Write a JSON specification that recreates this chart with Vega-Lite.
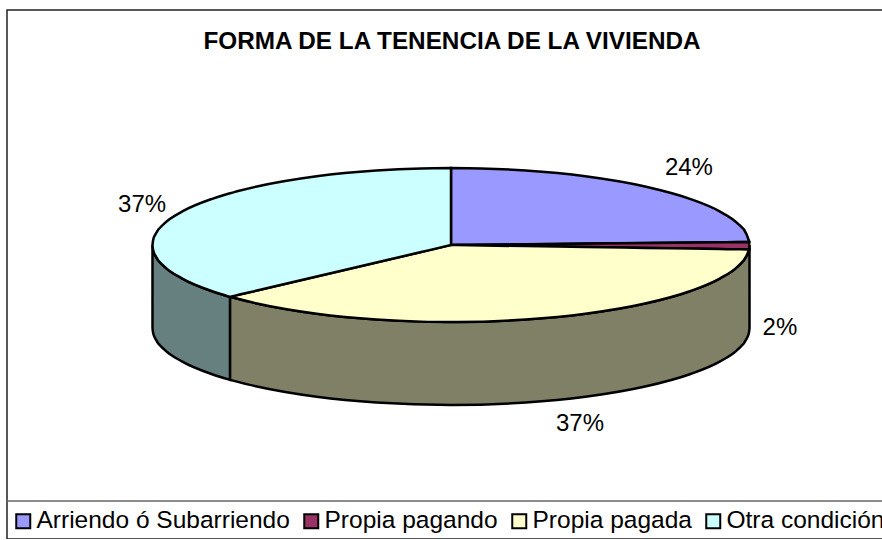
{"$schema":"https://vega.github.io/schema/vega-lite/v6.json","width":880,"height":529,"autosize":"none","padding":{"left":7,"top":10,"right":0,"bottom":0},"background":"white","view":{"stroke":"#222","strokeWidth":1.5,"fill":"white"},"title":{"text":"FORMA DE LA TENENCIA DE LA VIVIENDA","font":"Liberation Sans","fontSize":24.3,"fontWeight":"bold","color":"#000","anchor":"middle","dx":5,"offset":-44},"config":{"font":"Liberation Sans"},"datasets":{"shapes":[
{"slice":"Otra condición (lado)","u":-1,"v":0,"v2":-1.078},{"slice":"Otra condición (lado)","u":-0.998,"v":-0.063,"v2":-1.141},{"slice":"Otra condición (lado)","u":-0.99,"v":-0.141,"v2":-1.219},{"slice":"Otra condición (lado)","u":-0.96,"v":-0.28,"v2":-1.358},{"slice":"Otra condición (lado)","u":-0.9,"v":-0.436,"v2":-1.514},{"slice":"Otra condición (lado)","u":-0.8,"v":-0.6,"v2":-1.678},{"slice":"Otra condición (lado)","u":-0.74,"v":-0.673,"v2":-1.751},
{"slice":"Propia pagada (lado)","u":-0.74,"v":-0.673,"v2":-1.751},{"slice":"Propia pagada (lado)","u":-0.65,"v":-0.76,"v2":-1.838},{"slice":"Propia pagada (lado)","u":-0.45,"v":-0.893,"v2":-1.971},{"slice":"Propia pagada (lado)","u":-0.25,"v":-0.968,"v2":-2.046},{"slice":"Propia pagada (lado)","u":0,"v":-1,"v2":-2.078},{"slice":"Propia pagada (lado)","u":0.25,"v":-0.968,"v2":-2.046},{"slice":"Propia pagada (lado)","u":0.45,"v":-0.893,"v2":-1.971},{"slice":"Propia pagada (lado)","u":0.65,"v":-0.76,"v2":-1.838},{"slice":"Propia pagada (lado)","u":0.8,"v":-0.6,"v2":-1.678},{"slice":"Propia pagada (lado)","u":0.9,"v":-0.436,"v2":-1.514},{"slice":"Propia pagada (lado)","u":0.96,"v":-0.28,"v2":-1.358},{"slice":"Propia pagada (lado)","u":0.99,"v":-0.141,"v2":-1.219},{"slice":"Propia pagada (lado)","u":0.998,"v":-0.063,"v2":-1.141},{"slice":"Propia pagada (lado)","u":1,"v":0,"v2":-1.078},
{"slice":"Arriendo ó Subarriendo","u":0,"v":1,"v2":0},{"slice":"Arriendo ó Subarriendo","u":0.1,"v":0.995,"v2":0.004},{"slice":"Arriendo ó Subarriendo","u":0.25,"v":0.968,"v2":0.01},{"slice":"Arriendo ó Subarriendo","u":0.45,"v":0.893,"v2":0.018},{"slice":"Arriendo ó Subarriendo","u":0.65,"v":0.76,"v2":0.026},{"slice":"Arriendo ó Subarriendo","u":0.8,"v":0.6,"v2":0.032},{"slice":"Arriendo ó Subarriendo","u":0.9,"v":0.436,"v2":0.036},{"slice":"Arriendo ó Subarriendo","u":0.96,"v":0.28,"v2":0.038},{"slice":"Arriendo ó Subarriendo","u":0.99,"v":0.141,"v2":0.04},{"slice":"Arriendo ó Subarriendo","u":0.999,"v":0.045,"v2":0.04},
{"slice":"Propia pagando","u":0,"v":0,"v2":0},{"slice":"Propia pagando","u":0.5,"v":0.02,"v2":-0.029},{"slice":"Propia pagando","u":0.999,"v":0.04,"v2":-0.058},
{"slice":"Propia pagada","u":-0.74,"v":-0.673,"v2":-0.673},{"slice":"Propia pagada","u":-0.65,"v":-0.591,"v2":-0.76},{"slice":"Propia pagada","u":-0.45,"v":-0.409,"v2":-0.893},{"slice":"Propia pagada","u":-0.25,"v":-0.227,"v2":-0.968},{"slice":"Propia pagada","u":-0.1,"v":-0.091,"v2":-0.995},{"slice":"Propia pagada","u":-0.02,"v":-0.018,"v2":-1},{"slice":"Propia pagada","u":0,"v":0,"v2":-1},{"slice":"Propia pagada","u":0.02,"v":-0.001,"v2":-1},{"slice":"Propia pagada","u":0.25,"v":-0.0145,"v2":-0.968},{"slice":"Propia pagada","u":0.45,"v":-0.026,"v2":-0.893},{"slice":"Propia pagada","u":0.65,"v":-0.038,"v2":-0.76},{"slice":"Propia pagada","u":0.8,"v":-0.046,"v2":-0.6},{"slice":"Propia pagada","u":0.9,"v":-0.052,"v2":-0.436},{"slice":"Propia pagada","u":0.96,"v":-0.056,"v2":-0.28},{"slice":"Propia pagada","u":0.99,"v":-0.057,"v2":-0.141},{"slice":"Propia pagada","u":0.999,"v":-0.058,"v2":-0.058},
{"slice":"Otra condición","u":-1,"v":0,"v2":0},{"slice":"Otra condición","u":-0.998,"v":0.063,"v2":-0.063},{"slice":"Otra condición","u":-0.99,"v":0.141,"v2":-0.141},{"slice":"Otra condición","u":-0.96,"v":0.28,"v2":-0.28},{"slice":"Otra condición","u":-0.9,"v":0.436,"v2":-0.436},{"slice":"Otra condición","u":-0.8,"v":0.6,"v2":-0.6},{"slice":"Otra condición","u":-0.76,"v":0.65,"v2":-0.65},{"slice":"Otra condición","u":-0.74,"v":0.673,"v2":-0.673},{"slice":"Otra condición","u":-0.72,"v":0.694,"v2":-0.654},{"slice":"Otra condición","u":-0.65,"v":0.76,"v2":-0.591},{"slice":"Otra condición","u":-0.45,"v":0.893,"v2":-0.409},{"slice":"Otra condición","u":-0.25,"v":0.968,"v2":-0.227},{"slice":"Otra condición","u":-0.1,"v":0.995,"v2":-0.091},{"slice":"Otra condición","u":0,"v":1,"v2":0}
],"labels":[{"share":0.24,"u":0.797,"v":1.0},{"share":0.02,"u":1.102,"v":-1.078},{"share":0.37,"u":0.432,"v":-2.325},{"share":0.37,"u":-1.035,"v":0.519}]},
"layer":[
{"data":{"name":"shapes"},"mark":{"type":"area","interpolate":"monotone","stroke":"#000","strokeWidth":2.5,"opacity":1},"encoding":{"x":{"field":"u","type":"quantitative","axis":null,"scale":{"domain":[-1.4874,1.4606],"nice":false,"zero":false}},"y":{"field":"v","type":"quantitative","axis":null,"scale":{"domain":[-3.818,3.052],"nice":false,"zero":false},"stack":null},"y2":{"field":"v2"},"fill":{"field":"slice","type":"nominal","scale":{"domain":["Arriendo ó Subarriendo","Propia pagando","Propia pagada","Otra condición","Propia pagada (lado)","Otra condición (lado)"],"range":["#9999FF","#993366","#FFFFCC","#CCFFFF","#808066","#668080"]},"legend":{"title":null,"orient":"none","legendX":4,"legendY":499,"direction":"horizontal","columns":4,"gridAlign":"none","values":["Arriendo ó Subarriendo","Propia pagando","Propia pagada","Otra condición"],"symbolType":"square","symbolSize":196,"symbolStrokeColor":"#000","symbolStrokeWidth":2,"symbolOpacity":1,"labelFont":"Liberation Sans","labelFontSize":24.5,"labelColor":"#000","labelLimit":400,"labelOffset":1,"columnPadding":9,"padding":0}}}},
{"data":{"values":[{"linea":-3.325}]},"mark":{"type":"rule","color":"#666","strokeWidth":1.5},"encoding":{"y":{"field":"linea","type":"quantitative"}}},
{"data":{"name":"labels"},"mark":{"type":"text","font":"Liberation Sans","fontSize":24,"color":"#000","baseline":"middle","align":"center"},"encoding":{"x":{"field":"u","type":"quantitative"},"y":{"field":"v","type":"quantitative"},"text":{"field":"share","type":"quantitative","format":".0%"}}}
]}
